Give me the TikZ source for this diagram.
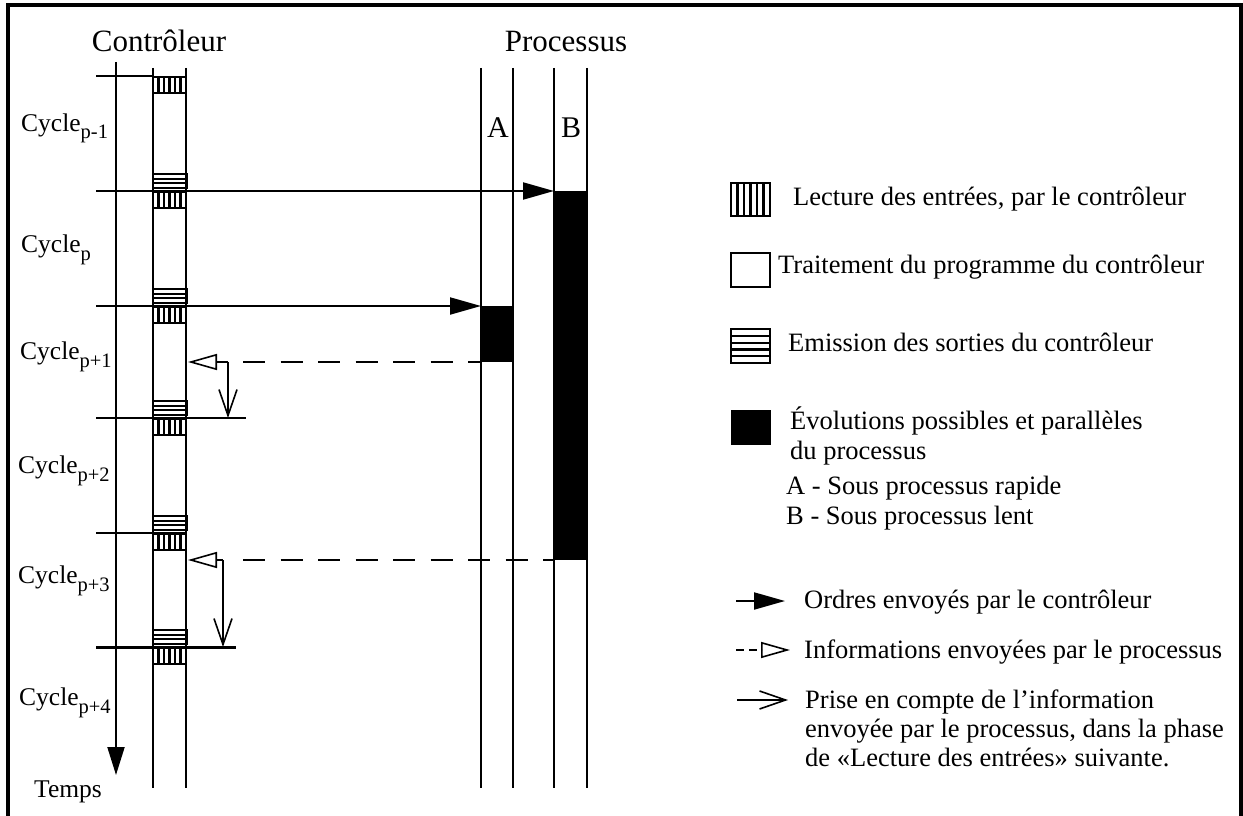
\documentclass[tikz,border=0pt]{standalone}
\usepackage{fontspec}
\setmainfont{Liberation Serif}
\usetikzlibrary{arrows.meta}
\newcommand{\legsize}{\fontsize{26.5}{30}\selectfont}
\newcommand{\cycsize}{\fontsize{25.5}{29.5}\selectfont}
\newcommand{\titsize}{\fontsize{31}{36}\selectfont}
\newcommand{\cyc}[1]{Cycle\raisebox{-8pt}{\fontsize{20.5}{20.5}\selectfont #1}}
% vertical hatch: x1 y1 x2 y2 n
\newcommand{\vhatch}[5]{%
  \fill[white] (#1,#2) rectangle (#3,#4);
  \foreach \k in {0,...,#5} \draw[vstripe] ({(#1)+((#3)-(#1))*\k/(#5)},#2) -- ({(#1)+((#3)-(#1))*\k/(#5)},#4);
  \draw[hatchline] (#1,#2) rectangle (#3,#4);
}
% horizontal hatch: x1 y1 x2 y2 n
\newcommand{\hhatch}[5]{%
  \fill[white] (#1,#2) rectangle (#3,#4);
  \foreach \k in {0,...,#5} \draw[hstripe] (#1,{(#2)+((#4)-(#2))*\k/(#5)}) -- (#3,{(#2)+((#4)-(#2))*\k/(#5)});
  \draw[hatchline] (#1,#2) rectangle (#3,#4);
}
\tikzset{
  frame/.style={line width=3.5pt},
  rail/.style={line width=2pt},
  cycline/.style={line width=2pt},
  hatchline/.style={line width=1.8pt},
  vstripe/.style={line width=2.4pt},
  hstripe/.style={line width=2.2pt},
  timeaxis/.style={line width=2pt, -{Triangle[length=28pt,width=17pt]}},
  ordre/.style={line width=2pt, -{Triangle[length=31pt,width=17pt]}},
  infodash/.style={line width=2pt, dash pattern=on 22pt off 15.5pt},
  legdash/.style={line width=2pt, dash pattern=on 8pt off 5pt},
  infotip/.style={line width=1.6pt, -{Triangle[open,length=29pt,width=16pt]}},
  prise/.style={line width=1.6pt, -{Straight Barb[length=26pt,width=18pt]}},
  title/.style={inner sep=0pt, font=\titsize},
  leg/.style={inner sep=0pt, font=\legsize},
  cyclab/.style={inner sep=0pt, font=\cycsize},
  ablab/.style={inner sep=0pt, font=\fontsize{30}{34}\selectfont},
}
\begin{document}
\begin{tikzpicture}[x=1pt,y=-1pt]
\useasboundingbox (0,0) rectangle (1243,816);
% frame
\coordinate (fbl) at (8,830); \coordinate (ftl) at (8,5);
\coordinate (ftr) at (1241,5); \coordinate (fbr) at (1241,830);
\draw[frame] (fbl) -- (ftl) -- (ftr) -- (fbr);

% titles
\node[title, anchor=base] (tctrl) at (159,52) {Contrôleur};
\node[title, anchor=base] (tproc) at (566,52) {Processus};

% process activity
\fill (481,306) rectangle (513,362);
\fill (554,191) rectangle (587,560);

% controller hatches
\vhatch{153}{77}{186}{93}{6}
\foreach \yb in {191,306,418,533,647} {
  \hhatch{153}{\yb-17}{187}{\yb-3}{3}
  \vhatch{153}{\yb+1}{186}{\yb+17}{6}
}

% rails
\foreach \x in {153,186,481,513,554,587} \draw[rail] (\x,68) -- (\x,788);

% time axis
\coordinate (t0) at (116,62); \coordinate (t1) at (116,775);
\draw[timeaxis] (t0) -- (t1);
\node[cyclab, anchor=base] (temps) at (68,797) {Temps};

% A / B labels
\node[ablab, anchor=base] (labA) at (498,137) {A};
\node[ablab, anchor=base] (labB) at (571,137) {B};

% cycle lines
\coordinate (l0a) at (96,76);  \coordinate (l0b) at (153,76);
\coordinate (l1a) at (96,191); \coordinate (l1b) at (186,191);
\coordinate (l2a) at (96,306); \coordinate (l2b) at (186,306);
\coordinate (l3a) at (96,418); \coordinate (l3b) at (246,418);
\coordinate (l4a) at (96,533); \coordinate (l4b) at (186,533);
\coordinate (l5a) at (96,647); \coordinate (l5b) at (236,647);
\draw[cycline] (l0a) -- (l0b);
\draw[cycline] (l1a) -- (l1b);
\draw[cycline] (l2a) -- (l2b);
\draw[cycline] (l3a) -- (l3b);
\draw[cycline] (l4a) -- (l4b);
\draw[line width=3pt] (l5a) -- (l5b);

% orders
\coordinate (Bstart) at (554,191);
\coordinate (Astart) at (481,306);
\draw[ordre] (l1b) -- (Bstart);
\draw[ordre] (l2b) -- (Astart);

% informations
\coordinate (Aend) at (481,362);   \coordinate (d1s) at (243,362);
\coordinate (d1j) at (228,362);    \coordinate (c1tip) at (188,362);
\coordinate (p1end) at (228,418);
\draw[infodash] (d1s) -- (Aend);
\draw[infotip] (d1j) -- (c1tip);
\draw[prise] (d1j) -- (p1end);

\coordinate (Bend) at (554,560);   \coordinate (d2s) at (243,560);
\coordinate (d2j) at (223,560);    \coordinate (c2tip) at (188,560);
\coordinate (p2end) at (223,647);
\draw[infodash] (d2s) -- (Bend);
\draw[infotip] (d2j) -- (c2tip);
\draw[prise] (d2j) -- (p2end);

% cycle labels
\node[cyclab, anchor=base west] (cy1) at (21,131) {\cyc{p-1}};
\node[cyclab, anchor=base west] (cy2) at (21,252) {\cyc{p}};
\node[cyclab, anchor=base west] (cy3) at (20,359) {\cyc{p+1}};
\node[cyclab, anchor=base west] (cy4) at (18,473) {\cyc{p+2}};
\node[cyclab, anchor=base west] (cy5) at (18,583) {\cyc{p+3}};
\node[cyclab, anchor=base west] (cy6) at (19,705) {\cyc{p+4}};

% legend icons
\vhatch{731}{183}{770}{216}{6}
\draw[line width=2pt] (731,253) rectangle (770,287);
\hhatch{731}{329}{770}{363}{5}
\fill (731,410) rectangle (771,445);

% legend texts
\node[leg, anchor=base west] (lg1) at (793,205) {Lecture des entrées, par le contrôleur};
\node[leg, anchor=base west] (lg2) at (778,273) {Traitement du programme du contrôleur};
\node[leg, anchor=base west] (lg3) at (788,351) {Emission des sorties du contrôleur};
\node[leg, anchor=base west] (lg4) at (790,429) {Évolutions possibles et parallèles};
\node[leg, anchor=base west] (lg5) at (790,459) {du processus};
\node[leg, anchor=base west] (lg6) at (786,494) {A - Sous processus rapide};
\node[leg, anchor=base west] (lg7) at (786,524) {B - Sous processus lent};

% legend arrows
\coordinate (la1) at (736,601); \coordinate (lb1) at (785,601);
\draw[ordre] (la1) -- (lb1);
\node[leg, anchor=base west] (lg8) at (804,608) {Ordres envoyés par le contrôleur};

\coordinate (la2) at (736,650); \coordinate (lm2) at (762,650); \coordinate (lb2) at (790,650);
\draw[legdash] (la2) -- (lm2);
\draw[infotip] (lm2) -- (lb2);
\node[leg, anchor=base west] (lg9) at (804,658) {Informations envoyées par le processus};

\coordinate (la3) at (737,700); \coordinate (lb3) at (788,700);
\draw[prise] (la3) -- (lb3);
\node[leg, anchor=base west] (lg10) at (805,708) {Prise en compte de l’information};
\node[leg, anchor=base west] (lg11) at (805,737) {envoyée par le processus, dans la phase};
\node[leg, anchor=base west] (lg12) at (805,766) {de «Lecture des entrées» suivante.};
\end{tikzpicture}
\end{document}
